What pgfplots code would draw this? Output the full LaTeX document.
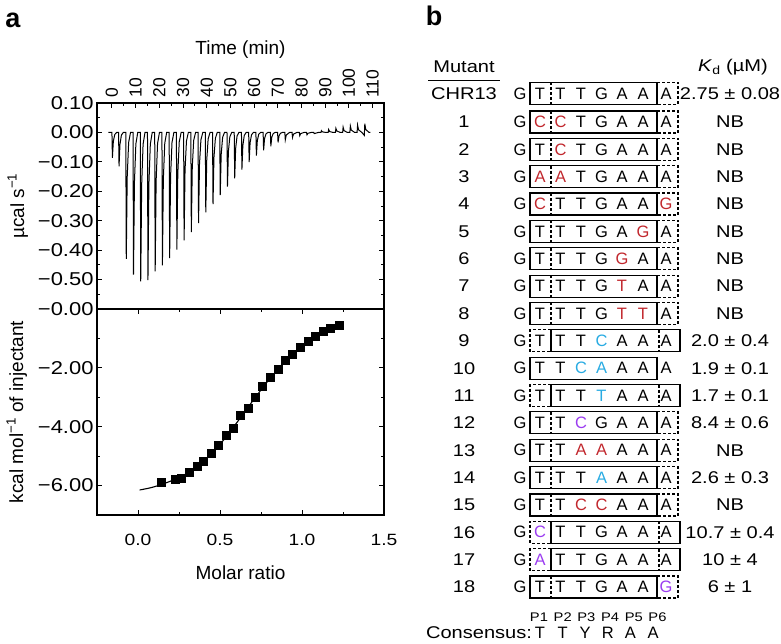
\documentclass[border=0pt]{standalone}
\usepackage{fontspec}
\setmainfont{Liberation Sans}
\newfontfamily\stretchfont{Liberation Sans}[FakeStretch=1.18]
\usepackage{pgfplots}
\pgfplotsset{compat=1.18}
\definecolor{mred}{HTML}{C1272D}
\definecolor{mcyan}{HTML}{29ABE2}
\definecolor{mpurple}{HTML}{9B3CF0}
\newcommand\fs[1]{\fontsize{#1bp}{#1bp}\selectfont}
\newcommand\pfont{\stretchfont\fs{17}}
\newcommand\sfont{\fs{16.5}}
\newcommand\lbl[3]{\node[font=\pfont] at (464,#1) {#2}; \node[font=\pfont] at (730,#1) {#3}; \node[font=\sfont] at (520,#1) {G};}
\newcommand\seq[8]{%
 \node[font=\sfont] at (540,#1) {#2};
 \node[font=\sfont] at (560.5,#1) {#3};
 \node[font=\sfont] at (581,#1) {#4};
 \node[font=\sfont] at (601.5,#1) {#5};
 \node[font=\sfont] at (622,#1) {#6};
 \node[font=\sfont] at (643,#1) {#7};
 \node[font=\sfont] at (666,#1) {#8};}
\tikzset{bsolid/.style={line width=1.2bp}, bdash/.style={line width=1.2bp, dash pattern=on 3bp off 2bp}}
\newcommand\boxA[1]{%
 \draw[bsolid] (530,{#1-11}) rectangle (657,{#1+11});
 \draw[bdash] (551,{#1-11}) -- (551,{#1+11});
 \draw[bdash] (657,{#1-11}) -- (678,{#1-11}) -- (678,{#1+11}) -- (657,{#1+11});}
\newcommand\boxB[1]{%
 \draw[bdash] (551,{#1-11}) -- (530,{#1-11}) -- (530,{#1+11}) -- (551,{#1+11});
 \draw[bsolid] (551,{#1-11}) rectangle (680,{#1+11});
 \draw[bdash] (659,{#1-11}) -- (659,{#1+11});}
\newcommand\boxC[1]{\draw[bsolid] (530,{#1-11}) rectangle (657,{#1+11});}
\newcommand\R[1]{\textcolor{mred}{#1}}
\newcommand\Cy[1]{\textcolor{mcyan}{#1}}
\newcommand\Pu[1]{\textcolor{mpurple}{#1}}

\pgfplotsset{
 itcaxis/.style={scale only axis, width=287bp, height=206bp, anchor=south west,
  axis line style={line width=1.1bp}, every tick/.style={black, line width=0.9bp},
  major tick length=5bp, minor tick length=3bp,
  label style={font=\fs{19}},
  yticklabel style={font=\stretchfont\fs{18.6}},
 }
}

\begin{document}
\begin{tikzpicture}
\useasboundingbox (0,0) rectangle (781bp,644bp);

% ---------- top: thermogram ----------
\begin{axis}[itcaxis, at={(97bp,335bp)},
 xmin=-6.3, xmax=114.8, ymin=-0.6, ymax=0.1,
 xtick pos=upper, xticklabel pos=upper,
 xtick={0,10,20,30,40,50,60,70,80,90,100,110},
 xticklabels={0,10,20,30,40,50,60,70,80,90,100,110},
 minor xtick={5,15,...,105},
 xticklabel style={rotate=90, anchor=west, font=\fs{17.5}}, xticklabel shift=2bp,
 ytick={0.1,0,-0.1,-0.2,-0.3,-0.4,-0.5},
 yticklabels={0.10,0.00,−0.10,−0.20,−0.30,−0.40,−0.50},
 minor ytick={0.05,-0.05,-0.15,-0.25,-0.35,-0.45,-0.55},
 xlabel={Time (min)}, ylabel={µcal s\textsuperscript{−1}},
 xlabel style={yshift=3bp}, ylabel style={yshift=3bp},
]
\addplot[black, line width=1bp] coordinates {
(-1.5,0)
(0,0)(0.2,-0.086)(0.6,-0.030)(1.2,-0.007)(2.0,0)
(2.8,0)(3.0,-0.115)(3.4,-0.040)(4.0,-0.009)(4.8,0)
(5.85,0)(6.05,-0.43)(6.45,-0.151)(7.05,-0.034)(7.85,0)
(8.9,0)(9.1,-0.483)(9.5,-0.169)(10.1,-0.039)(10.9,0)
(11.95,0)(12.15,-0.506)(12.55,-0.177)(13.15,-0.040)(13.95,0)
(15.0,0)(15.2,-0.502)(15.6,-0.176)(16.2,-0.040)(17.0,0)
(18.05,0)(18.25,-0.472)(18.65,-0.165)(19.25,-0.038)(20.05,0)
(21.1,0)(21.3,-0.452)(21.7,-0.158)(22.3,-0.036)(23.1,0)
(24.15,0)(24.35,-0.427)(24.75,-0.149)(25.35,-0.034)(26.15,0)
(27.2,0)(27.4,-0.398)(27.8,-0.139)(28.4,-0.032)(29.2,0)
(30.25,0)(30.45,-0.367)(30.85,-0.128)(31.45,-0.029)(32.25,0)
(33.3,0)(33.5,-0.339)(33.9,-0.119)(34.5,-0.027)(35.3,0)
(36.35,0)(36.55,-0.308)(36.95,-0.108)(37.55,-0.025)(38.35,0)
(39.4,0)(39.6,-0.272)(40.0,-0.095)(40.6,-0.022)(41.4,0)
(42.45,0)(42.65,-0.244)(43.05,-0.085)(43.65,-0.020)(44.45,0)
(45.5,0)(45.7,-0.213)(46.1,-0.075)(46.7,-0.017)(47.5,0)
(48.55,0)(48.75,-0.184)(49.15,-0.064)(49.75,-0.015)(50.55,0)
(51.6,0)(51.8,-0.156)(52.2,-0.055)(52.8,-0.012)(53.6,0)
(54.65,0)(54.85,-0.126)(55.25,-0.044)(55.85,-0.010)(56.65,0)
(57.7,0)(57.9,-0.101)(58.3,-0.035)(58.9,-0.008)(59.7,0)
(60.75,0)(60.95,-0.079)(61.35,-0.028)(61.95,-0.006)(62.75,0)
(63.8,0)(64.0,-0.061)(64.4,-0.021)(65.0,-0.005)(65.8,0)
(66.85,0)(67.05,-0.047)(67.45,-0.016)(68.05,-0.004)(68.85,0)
(69.9,0)(70.1,-0.034)(70.5,-0.012)(71.1,-0.003)(71.9,0)
(72.95,0)(73.15,-0.025)(73.55,-0.009)(74.95,0)
(76.0,0)(76.2,-0.017)(76.6,-0.006)(78.0,0)
(79.05,0)(79.25,-0.011)(79.65,-0.004)(81.05,0)
(82.1,0)(82.3,-0.008)(82.7,-0.003)(84.1,0)
(85.15,0)(85.35,-0.004)(87.15,0)
(88.2,0)(88.4,0.006)(88.8,0.002)(90.2,0)
(91.25,0)(91.45,0.010)(91.85,0.003)(93.25,0)
(94.3,0)(94.5,0.014)(94.9,0.005)(96.3,0)
(97.35,0)(97.55,0.018)(97.95,0.006)(99.35,0)
(100.4,0)(100.6,0.022)(101.0,0.008)(102.4,0)
(103.45,0)(103.65,0.025)(104.05,0.009)(105.45,0)
(106.5,-0.01)(106.7,0.030)(107.1,0.010)(108.5,0)(109,0)
};
\end{axis}

% ---------- bottom: integrated heats ----------
\begin{axis}[itcaxis, at={(97bp,129bp)},
 xmin=-0.25, xmax=1.5, ymin=-7, ymax=0,
 xtick={0,0.5,1,1.5}, xticklabels={0.0,0.5,1.0,1.5},
 minor xtick={-0.25,0.25,0.75,1.25},
 xticklabel style={font=\stretchfont\fs{16.3}}, xticklabel shift=16bp,
 ytick={0,-2,-4,-6}, yticklabels={−0.00,−2.00,−4.00,−6.00},
 minor ytick={-1,-3,-5},
 xlabel={Molar ratio}, ylabel={kcal mol\textsuperscript{−1} of injectant},
 xlabel style={yshift=-13bp}, ylabel style={yshift=4bp},
]
\addplot[black, line width=1.1bp, smooth] coordinates {
(0.01,-6.15)(0.08,-6.07)(0.15,-5.95)(0.22,-5.80)(0.3,-5.58)(0.4,-5.18)(0.5,-4.60)
(0.6,-3.88)(0.7,-3.12)(0.8,-2.39)(0.9,-1.76)(1.0,-1.27)(1.1,-0.89)(1.2,-0.63)(1.25,-0.53)};
\addplot[only marks, mark=square*, mark size=4bp, black] coordinates {
(0.142,-5.90)(0.224,-5.77)(0.264,-5.74)(0.315,-5.54)(0.360,-5.33)(0.400,-5.16)
(0.447,-4.89)(0.492,-4.64)(0.537,-4.30)(0.579,-4.05)(0.624,-3.62)(0.669,-3.36)
(0.715,-3.01)(0.760,-2.63)(0.807,-2.32)(0.852,-2.03)(0.898,-1.75)(0.943,-1.52)
(0.990,-1.29)(1.035,-1.08)(1.081,-0.91)(1.128,-0.77)(1.173,-0.66)(1.224,-0.54)};
\end{axis}

% ---------- panel labels and table (b) ----------
\begin{axis}[at={(0,0)}, anchor=south west, scale only axis, width=781bp, height=644bp,
 xmin=0, xmax=781, ymin=0, ymax=644, y dir=reverse, hide axis, clip=false]
\node[font=\bfseries\fs{27}] at (13,20) {a};
\node[font=\bfseries\fs{27}] at (434,16) {b};
\node[font=\pfont] at (464,67) {Mutant};
\draw[line width=1bp] (428,81) -- (500,81);
\node[font=\pfont] at (733,67) {\textit{K}\textsubscript{d} (µM)};
% rows
\lbl{93.5}{CHR13}{2.75 ± 0.08}\seq{93.5}{T}{T}{T}{G}{A}{A}{A}\boxA{93.5}
\lbl{122}{1}{NB}\seq{122}{\R{C}}{\R{C}}{T}{G}{A}{A}{A}\boxA{122}
\lbl{149.35}{2}{NB}\seq{149.35}{T}{\R{C}}{T}{G}{A}{A}{A}\boxA{149.35}
\lbl{176.7}{3}{NB}\seq{176.7}{\R{A}}{\R{A}}{T}{G}{A}{A}{A}\boxA{176.7}
\lbl{204.05}{4}{NB}\seq{204.05}{\R{C}}{T}{T}{G}{A}{A}{\R{G}}\boxA{204.05}
\lbl{231.4}{5}{NB}\seq{231.4}{T}{T}{T}{G}{A}{\R{G}}{A}\boxA{231.4}
\lbl{258.75}{6}{NB}\seq{258.75}{T}{T}{T}{G}{\R{G}}{A}{A}\boxA{258.75}
\lbl{286.1}{7}{NB}\seq{286.1}{T}{T}{T}{G}{\R{T}}{A}{A}\boxA{286.1}
\lbl{313.45}{8}{NB}\seq{313.45}{T}{T}{T}{G}{\R{T}}{\R{T}}{A}\boxA{313.45}
\lbl{340.8}{9}{2.0 ± 0.4}\seq{340.8}{T}{T}{T}{\Cy{C}}{A}{A}{A}\boxB{340.8}
\lbl{368.15}{10}{1.9 ± 0.1}\seq{368.15}{T}{T}{\Cy{C}}{\Cy{A}}{A}{A}{A}\boxC{368.15}
\lbl{395.5}{11}{1.7 ± 0.1}\seq{395.5}{T}{T}{T}{\Cy{T}}{A}{A}{A}\boxB{395.5}
\lbl{422.85}{12}{8.4 ± 0.6}\seq{422.85}{T}{T}{\Pu{C}}{G}{A}{A}{A}\boxA{422.85}
\lbl{450.2}{13}{NB}\seq{450.2}{T}{T}{\R{A}}{\R{A}}{A}{A}{A}\boxA{450.2}
\lbl{477.55}{14}{2.6 ± 0.3}\seq{477.55}{T}{T}{T}{\Cy{A}}{A}{A}{A}\boxA{477.55}
\lbl{504.9}{15}{NB}\seq{504.9}{T}{T}{\R{C}}{\R{C}}{A}{A}{A}\boxA{504.9}
\lbl{532.25}{16}{10.7 ± 0.4}\seq{532.25}{\Pu{C}}{T}{T}{G}{A}{A}{A}\boxB{532.25}
\lbl{559.6}{17}{10 ± 4}\seq{559.6}{\Pu{A}}{T}{T}{G}{A}{A}{A}\boxB{559.6}
\lbl{586.95}{18}{6 ± 1}\seq{586.95}{T}{T}{T}{G}{A}{A}{\Pu{G}}\boxA{586.95}
% positions and consensus
\node[font=\stretchfont\fs{12.5}] at (539,617) {P1};
\node[font=\stretchfont\fs{12.5}] at (562.7,617) {P2};
\node[font=\stretchfont\fs{12.5}] at (586.4,617) {P3};
\node[font=\stretchfont\fs{12.5}] at (610.1,617) {P4};
\node[font=\stretchfont\fs{12.5}] at (633.8,617) {P5};
\node[font=\stretchfont\fs{12.5}] at (657.5,617) {P6};
\node[font=\pfont] at (479,633) {Consensus:};
\node[font=\sfont] at (540,633) {T};
\node[font=\sfont] at (562.6,633) {T};
\node[font=\sfont] at (585.2,633) {Y};
\node[font=\sfont] at (607.8,633) {R};
\node[font=\sfont] at (630.4,633) {A};
\node[font=\sfont] at (653,633) {A};
\end{axis}
\end{tikzpicture}
\end{document}
